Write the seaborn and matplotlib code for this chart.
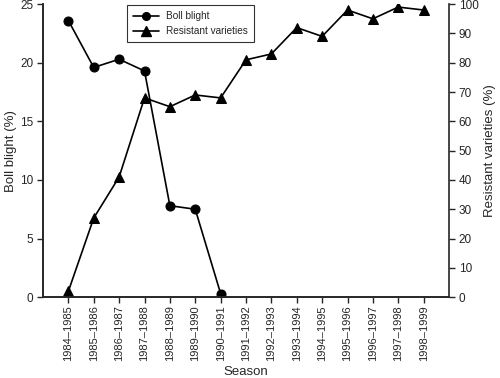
import numpy as np
import pandas as pd
import matplotlib
matplotlib.use("Agg")
import matplotlib.pyplot as plt
import seaborn as sns
from matplotlib.lines import Line2D

seasons = ["1984\u20131985", "1985\u20131986", "1986\u20131987", "1987\u20131988",
           "1988\u20131989", "1989\u20131990", "1990\u20131991", "1991\u20131992",
           "1992\u20131993", "1993\u20131994", "1994\u20131995", "1995\u20131996",
           "1996\u20131997", "1997\u20131998", "1998\u20131999"]
boll_blight = [23.6, 19.6, 20.3, 19.3, 7.8, 7.5, 0.3]
resistant = [2, 27, 41, 68, 65, 69, 68, 81, 83, 92, 89, 98, 95, 99, 98]

sns.set_style("ticks")
plt.rcParams["font.family"] = ["Liberation Sans", "DejaVu Sans"]

df_b = pd.DataFrame({"pos": np.arange(len(boll_blight)), "val": boll_blight})
df_r = pd.DataFrame({"pos": np.arange(len(resistant)), "val": resistant})

fig = plt.figure(figsize=(5, 3.78), dpi=100)
ax = fig.add_axes([0.086, 0.214, 0.812, 0.775])
ax2 = ax.twinx()

sns.lineplot(df_b, x="pos", y="val", marker="o", markersize=6.5, color="black",
             linewidth=1.2, markeredgecolor="black", ax=ax)
sns.lineplot(df_r, x="pos", y="val", marker="^", markersize=7.5, color="black",
             linewidth=1.2, markeredgecolor="black", ax=ax2)

ax.set_xlim(-1, len(seasons))
ax.set_ylim(0, 25)
ax2.set_ylim(0, 100)
ax.set_yticks(range(0, 26, 5))
ax2.set_yticks(range(0, 101, 10))
ax.set_xticks(np.arange(len(seasons)))
ax.set_xticklabels(seasons, rotation=90, fontsize=8)
ax.tick_params(axis="y", labelsize=8.5, length=4, width=1, pad=3)
ax.tick_params(axis="x", length=4, width=1, pad=2)
ax2.tick_params(axis="y", labelsize=8.5, length=4, width=1, pad=3)

ax.set_xlabel("Season", fontsize=9.5)
ax.set_ylabel("Boll blight (%)", fontsize=9.5)
ax2.set_ylabel("Resistant varieties (%)", fontsize=9.5)
ax.xaxis.set_label_coords(0.5, -0.236)
ax.yaxis.set_label_coords(-0.064, 0.5)
ax2.yaxis.set_label_coords(1.086, 0.5)

for a in (ax, ax2):
    a.spines["top"].set_visible(False)
    for s in ("left", "right", "bottom"):
        a.spines[s].set_linewidth(1.2)
ax.spines["right"].set_visible(False)

handles = [Line2D([], [], color="black", marker="o", markersize=5.5, linewidth=1.2),
           Line2D([], [], color="black", marker="^", markersize=6.5, linewidth=1.2)]
leg = ax.legend(handles, ["Boll blight", "Resistant varieties"], loc="upper left",
                bbox_to_anchor=(0.207, 0.997), borderaxespad=0, fontsize=7.2,
                frameon=True, fancybox=False, edgecolor="black", handlelength=2.6,
                handletextpad=0.7, borderpad=0.6, labelspacing=0.5)
leg.get_frame().set_linewidth(0.8)

fig.savefig("out.png", dpi=100)
